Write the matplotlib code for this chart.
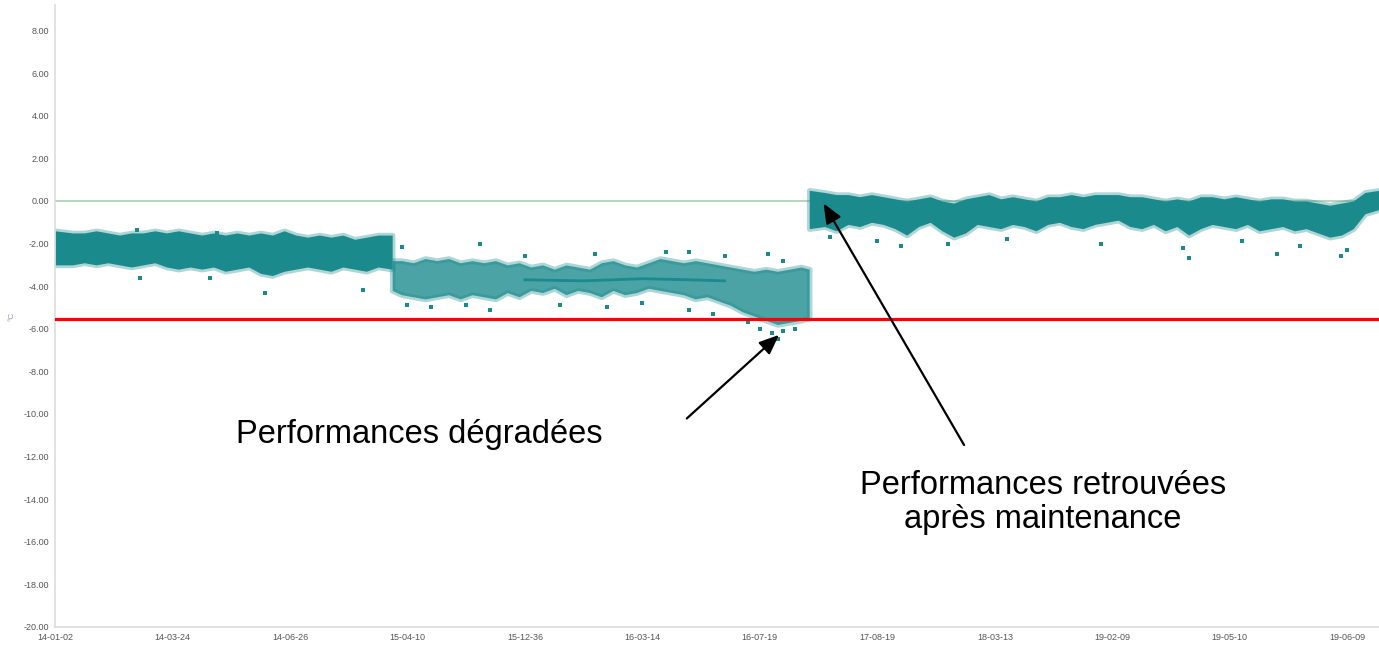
import matplotlib
matplotlib.use("Agg")
import matplotlib.pyplot as plt

plt.rcParams['font.family'] = ['Liberation Sans', 'DejaVu Sans']

# x axis: evenly spaced date labels (index positions)
tick_labels = ['14-01-02', '14-03-24', '14-06-26', '15-04-10', '15-12-36', '16-03-14',
               '16-07-19', '17-08-19', '18-03-13', '19-02-09', '19-05-10', '19-06-09']
y_ticks = [8, 6, 4, 2, 0, -2, -4, -6, -8, -10, -12, -14, -16, -18, -20]

# band of the measured points per period (index units), low / high in °C
# period 1 : before the drift
p1_x = [0.0, 0.15, 0.25, 0.35, 0.45, 0.55, 0.65, 0.75, 0.85, 0.95,
        1.05, 1.15, 1.25, 1.35, 1.45, 1.55, 1.65, 1.75, 1.85, 1.95,
        2.05, 2.15, 2.25, 2.35, 2.45, 2.55, 2.65, 2.75, 2.87]
p1_lo = [-3.0, -3.0, -2.9, -3.0, -2.9, -3.0, -3.1, -3.0, -2.9, -3.1,
         -3.2, -3.1, -3.2, -3.1, -3.3, -3.2, -3.1, -3.4, -3.5, -3.3,
         -3.2, -3.1, -3.2, -3.3, -3.1, -3.2, -3.3, -3.1, -3.2]
p1_hi = [-1.4, -1.5, -1.5, -1.4, -1.5, -1.6, -1.5, -1.5, -1.4, -1.5,
         -1.4, -1.5, -1.6, -1.5, -1.6, -1.5, -1.6, -1.5, -1.6, -1.4,
         -1.6, -1.7, -1.6, -1.7, -1.6, -1.8, -1.7, -1.6, -1.6]

# period 2 : degraded performance
p2_x = [2.87, 2.95, 3.05, 3.15, 3.25, 3.35, 3.45, 3.55, 3.65, 3.75,
        3.85, 3.95, 4.05, 4.15, 4.25, 4.35, 4.45, 4.55, 4.65, 4.75,
        4.85, 4.95, 5.05, 5.15, 5.25, 5.35, 5.45, 5.55, 5.65, 5.75,
        5.85, 5.95, 6.05, 6.15, 6.25, 6.35, 6.42]
p2_lo = [-4.2, -4.4, -4.5, -4.6, -4.5, -4.4, -4.6, -4.4, -4.5, -4.6,
         -4.3, -4.5, -4.2, -4.3, -4.1, -4.4, -4.2, -4.3, -4.5, -4.2,
         -4.4, -4.3, -4.1, -4.2, -4.3, -4.4, -4.6, -4.5, -4.7, -4.9,
         -5.2, -5.4, -5.6, -5.8, -5.7, -5.6, -5.5]
p2_hi = [-2.8, -2.8, -2.9, -2.7, -2.8, -2.7, -2.9, -2.8, -2.9, -2.8,
         -3.0, -2.9, -3.1, -3.0, -3.2, -3.0, -3.1, -3.2, -2.9, -2.8,
         -3.0, -3.1, -2.9, -2.7, -2.8, -2.9, -2.8, -2.9, -3.0, -3.1,
         -3.2, -3.3, -3.2, -3.3, -3.2, -3.1, -3.2]

# period 3 : after maintenance
p3_x = [6.42, 6.55, 6.65, 6.75, 6.85, 6.95, 7.05, 7.15, 7.25, 7.35,
        7.45, 7.55, 7.65, 7.75, 7.85, 7.95, 8.05, 8.15, 8.25, 8.35,
        8.45, 8.55, 8.65, 8.75, 8.85, 8.95, 9.05, 9.15, 9.25, 9.35,
        9.45, 9.55, 9.65, 9.75, 9.85, 9.95, 10.05, 10.15, 10.25, 10.35,
        10.45, 10.55, 10.65, 10.75, 10.85, 10.95, 11.05, 11.15, 11.27]
p3_lo = [-1.3, -1.2, -1.4, -1.1, -1.2, -1.0, -1.1, -1.3, -1.6, -1.2,
         -1.0, -1.4, -1.7, -1.5, -1.1, -1.2, -1.3, -1.1, -1.2, -1.4,
         -1.1, -1.0, -1.2, -1.3, -1.1, -1.0, -0.9, -1.2, -1.3, -1.1,
         -1.4, -1.2, -1.6, -1.3, -1.1, -1.2, -1.3, -1.1, -1.4, -1.3,
         -1.2, -1.4, -1.3, -1.5, -1.7, -1.6, -1.3, -0.6, -0.4]
p3_hi = [0.5, 0.4, 0.3, 0.3, 0.2, 0.3, 0.2, 0.1, 0.0, 0.1,
         0.2, 0.0, -0.1, 0.1, 0.2, 0.3, 0.1, 0.2, 0.1, 0.0,
         0.2, 0.2, 0.3, 0.2, 0.3, 0.3, 0.3, 0.2, 0.2, 0.1,
         0.0, 0.1, 0.0, 0.2, 0.2, 0.1, 0.2, 0.1, 0.0, 0.1,
         0.1, 0.0, 0.0, -0.1, -0.2, -0.1, 0.0, 0.4, 0.5]

# stray points outside the main band
stray_x = [0.7, 0.72, 1.32, 1.38, 1.79, 2.62, 2.95,
           3.0, 3.2, 3.5, 3.62, 3.7, 4.0, 4.3, 4.6, 4.7, 5.0, 5.2, 5.4, 5.4,
           5.6, 5.7, 5.9, 6.0, 6.07, 6.1, 6.15, 6.2, 6.2, 6.3,
           6.6, 7.0, 7.2, 7.6, 8.1, 8.9, 9.6, 9.65, 10.1, 10.4, 10.6, 10.95, 11.0]
stray_y = [-1.36, -3.6, -3.6, -1.5, -4.3, -4.2, -2.15,
           -4.9, -5.0, -4.9, -2.0, -5.1, -2.6, -4.9, -2.5, -5.0, -4.8, -2.4, -5.1, -2.4,
           -5.3, -2.6, -5.7, -6.0, -2.5, -6.2, -6.5, -6.1, -2.8, -6.0,
           -1.7, -1.9, -2.1, -2.0, -1.8, -2.0, -2.2, -2.7, -1.9, -2.5, -2.1, -2.6, -2.3]

# dense trace in the degraded period
trace_x = [4.0, 4.5, 5.0, 5.4, 5.7]
trace_y = [-3.7, -3.75, -3.65, -3.7, -3.75]

ref_value = 0.0
alarm_value = -5.55

teal = '#1a8a8c'
fringe = (0.10, 0.54, 0.55, 0.35)

fig = plt.figure(figsize=(13.79, 6.47), dpi=100)
ax = fig.add_axes([55 / 1379, 20 / 647, 1 - 55 / 1379, (627 - 5) / 647])

ax.fill_between(p1_x, p1_lo, p1_hi, facecolor=teal, edgecolor=fringe, lw=4, alpha=None, zorder=2)
ax.fill_between(p2_x, p2_lo, p2_hi, facecolor=(0.10, 0.54, 0.55, 0.78), edgecolor=fringe, lw=4, zorder=2)
ax.fill_between(p3_x, p3_lo, p3_hi, facecolor=teal, edgecolor=fringe, lw=4, zorder=2)
ax.scatter(stray_x, stray_y, s=5, marker='s', color=teal, linewidths=0, zorder=2)
ax.plot(trace_x, trace_y, color=teal, lw=2, zorder=3)

ax.axhline(ref_value, color='#a9cfb0', lw=1.2, zorder=1)
ax.axhline(alarm_value, color='#ff0000', lw=2.3, zorder=4)

ax.set_xlim(0, 11.27)
ax.set_ylim(-20, 9.2)
ax.set_xticks(range(len(tick_labels)))
ax.set_xticklabels(tick_labels)
ax.set_yticks(y_ticks)
ax.set_yticklabels(['%.2f' % v for v in y_ticks])
ax.tick_params(length=0, labelsize=6.5, labelcolor='#555555', pad=4)
ax.set_ylabel('°C', fontsize=6, color='#8899aa', labelpad=6)

for s in ['top', 'right']:
    ax.spines[s].set_visible(False)
for s in ['left', 'bottom']:
    ax.spines[s].set_color('#dddddd')
    ax.spines[s].set_linewidth(1.2)

arrow = dict(arrowstyle='-|>,head_length=1.2,head_width=0.5', color='black', lw=1.6)
ax.annotate('', xy=(6.18, -6.2), xytext=(5.36, -10.3), arrowprops=arrow, zorder=5)
ax.annotate('', xy=(6.53, 0.0), xytext=(7.75, -11.57), arrowprops=arrow, zorder=5)

ax.text(3.1, -10.95, 'Performances dégradées', fontsize=23.5, ha='center', va='center')
ax.text(8.41, -14.15, 'Performances retrouvées\naprès maintenance', fontsize=23.5,
        ha='center', va='center', linespacing=1.15)

fig.savefig('out.png', dpi=100)
